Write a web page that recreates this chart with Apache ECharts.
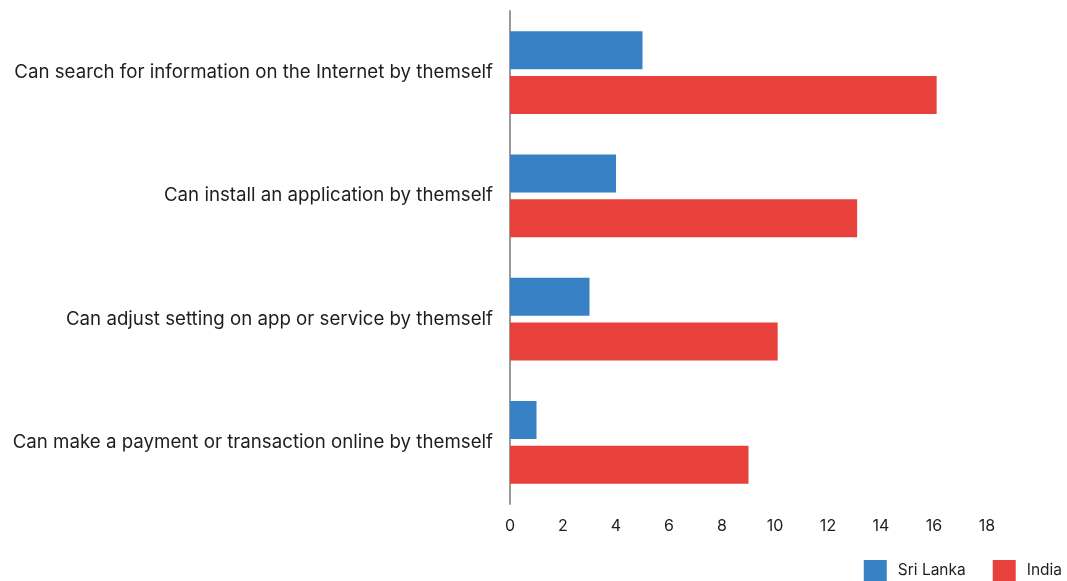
<!DOCTYPE html>
<html>
<head>
<meta charset="utf-8">
<script src="https://cdn.jsdelivr.net/npm/echarts@6/dist/echarts.min.js"></script>
<style>
  html, body { margin: 0; padding: 0; background: #fff; }
  #chart { width: 1067px; height: 581px; }
</style>
</head>
<body>
<div id="chart"></div>
<script>
// Digital skills: share of respondents who can do each task by themself
const categories = [
  'Can search for information on the Internet by themself',
  'Can install an application by themself',
  'Can adjust setting on app or service by themself',
  'Can make a payment or transaction online by themself'
];
const sriLanka = [5, 4, 3, 1];
const india = [16.1, 13.1, 10.1, 9];
const xTicks = { min: 0, max: 18, interval: 2 };

const font = 'Inter, "Noto Sans", sans-serif';
const chart = echarts.init(document.getElementById('chart'));
chart.setOption({
  animation: false,
  textStyle: { fontFamily: font },
  grid: { left: 510, right: 80, top: 11, bottom: 77, containLabel: false },
  legend: {
    right: 0,
    top: 555,
    itemWidth: 23,
    itemHeight: 21,
    itemGap: 27,
    icon: 'rect',
    textStyle: { fontFamily: font, fontSize: 15.5, color: '#1e1e1e', padding: [0, 0, 0, 6] },
    data: ['Sri Lanka', 'India']
  },
  xAxis: {
    type: 'value',
    min: xTicks.min,
    max: xTicks.max,
    interval: xTicks.interval,
    axisLine: { show: false },
    axisTick: { show: false },
    splitLine: { show: false },
    axisLabel: { fontFamily: font, fontSize: 16, color: '#1e1e1e', margin: 14 }
  },
  yAxis: {
    type: 'category',
    inverse: true,
    data: categories,
    axisLine: { show: true, lineStyle: { color: '#9a9a9a', width: 2 } },
    axisTick: { show: false },
    axisLabel: { fontFamily: font, fontSize: 18.7, color: '#1e1e1e', margin: 17 }
  },
  series: [
    {
      name: 'Sri Lanka',
      type: 'bar',
      data: sriLanka,
      barWidth: 38,
      barGap: '18%',
      itemStyle: { color: '#3782c4' }
    },
    {
      name: 'India',
      type: 'bar',
      data: india,
      barWidth: 38,
      barGap: '18%',
      itemStyle: { color: '#e8403a' }
    }
  ]
});
</script>
</body>
</html>
